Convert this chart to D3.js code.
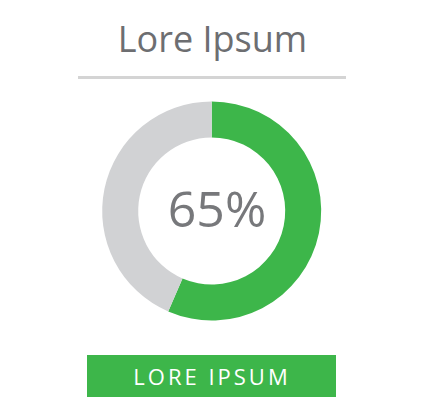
<!DOCTYPE html>
<html>
<head>
<meta charset="utf-8">
<script src="https://cdn.jsdelivr.net/npm/d3@7"></script>
<style>
  html, body { margin: 0; padding: 0; background: #fff; }
  svg { display: block; }
</style>
</head>
<body>
<svg id="chart" width="428" height="414"></svg>
<script>
const title = "Lore Ipsum";
const buttonLabel = "LORE IPSUM";
const centerLabel = "65%";
const segments = ["filled", "remaining"];
const values = [56.5, 43.5];
const colors = ["#3db64a", "#d1d2d4"];

const svg = d3.select("#chart");
const font = "'Open Sans', sans-serif";

svg.append("text")
  .attr("x", 212.5).attr("y", 52)
  .attr("text-anchor", "middle")
  .attr("font-family", font).attr("font-size", 36)
  .attr("fill", "#6d6e71")
  .text(title);

svg.append("line")
  .attr("x1", 78).attr("x2", 346)
  .attr("y1", 77.5).attr("y2", 77.5)
  .attr("stroke", "#d4d4d4").attr("stroke-width", 3);

const cx = 211.7, cy = 211, rOuter = 109.5, rInner = 73.5;
const pie = d3.pie().sort(null).value(d => d.v);
const arc = d3.arc().innerRadius(rInner).outerRadius(rOuter);
const data = segments.map((s, i) => ({ s, v: values[i] }));
const color = d3.scaleOrdinal().domain(segments).range(colors);

const g = svg.append("g").attr("transform", `translate(${cx},${cy})`);
g.selectAll("path").data(pie(data)).join("path")
  .attr("d", arc)
  .attr("fill", d => color(d.data.s));

svg.append("text")
  .attr("x", 217).attr("y", 227)
  .attr("text-anchor", "middle")
  .attr("font-family", font).attr("font-size", 50)
  .attr("font-weight", 500)
  .attr("fill", "#77787b")
  .text(centerLabel);

svg.append("rect")
  .attr("x", 87).attr("y", 355)
  .attr("width", 249).attr("height", 42)
  .attr("fill", "#3db64a");

svg.append("text")
  .attr("x", 212).attr("y", 384.5)
  .attr("text-anchor", "middle")
  .attr("font-family", font).attr("font-size", 22)
  .attr("letter-spacing", 3)
  .attr("fill", "#ffffff")
  .text(buttonLabel);
</script>
</body>
</html>
